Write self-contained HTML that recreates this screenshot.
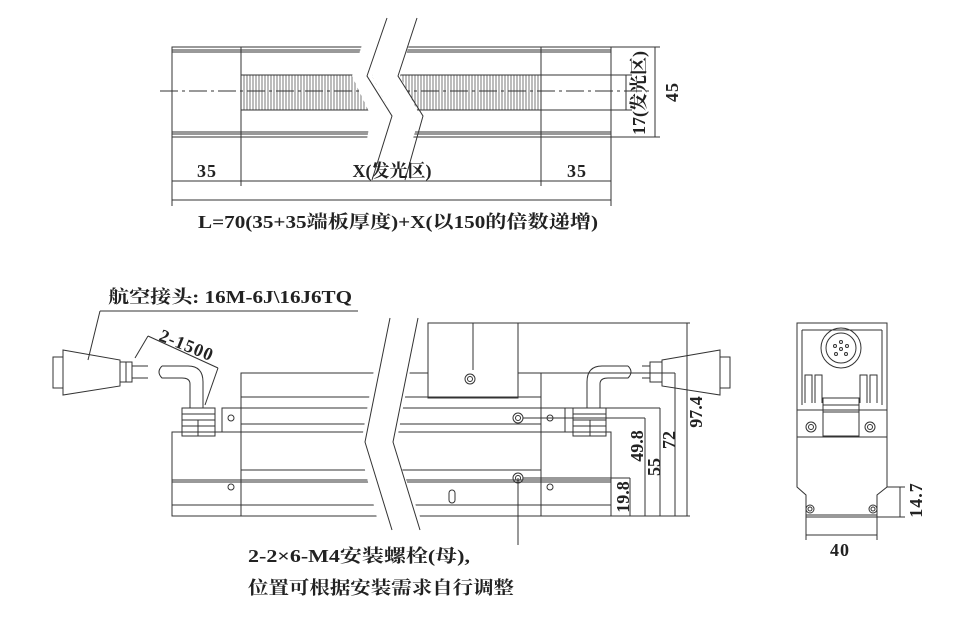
<!DOCTYPE html>
<html><head><meta charset="utf-8"><style>
html,body{margin:0;padding:0;background:#fff;}
svg{display:block;}
text{font-family:"Liberation Serif","Noto Serif CJK SC",serif;font-weight:bold;fill:#222;}
</style></head><body>
<svg width="959" height="638" viewBox="0 0 959 638" xmlns="http://www.w3.org/2000/svg">
<defs>
<pattern id="hatch" width="3" height="10" patternUnits="userSpaceOnUse">
<line x1="1" y1="0" x2="1" y2="10" stroke="#555" stroke-width="0.8"/>
</pattern>
</defs>
<g stroke="#333" fill="none" stroke-width="1">
<!-- TOP VIEW -->
<rect x="172" y="47" width="439" height="90"/>
<line x1="172" y1="50" x2="611" y2="50"/><line x1="172" y1="52" x2="611" y2="52"/>
<line x1="172" y1="132" x2="611" y2="132"/><line x1="172" y1="134" x2="611" y2="134"/>
<line x1="241" y1="47" x2="241" y2="137"/><line x1="541" y1="47" x2="541" y2="137"/>
<rect x="241" y="75" width="300" height="35" fill="url(#hatch)"/>
<line x1="160" y1="91" x2="650" y2="91" stroke-dasharray="18,4,3,4"/>
<polygon points="370,20 392,20 372,76 392,116 380,180 360,180 371,116 352,76" fill="#fff" stroke="none"/>
<polygon points="390,20 416,20 400,76 420,116 400,180 378,180 392,116 372,76" fill="#fff" stroke="none"/>
<polyline points="387,18 367,76 392,116 372,180"/>
<polyline points="417,18 398,76 423,116 405,180"/>
<line x1="172" y1="137" x2="172" y2="206"/><line x1="611" y1="137" x2="611" y2="206"/>
<line x1="241" y1="137" x2="241" y2="186"/><line x1="541" y1="137" x2="541" y2="186"/>
<line x1="172" y1="181" x2="611" y2="181"/>
<line x1="172" y1="200" x2="611" y2="200"/>
<line x1="541" y1="75" x2="632" y2="75"/><line x1="541" y1="110" x2="632" y2="110"/>
<line x1="626" y1="75" x2="626" y2="110"/>
<line x1="611" y1="47" x2="660" y2="47"/><line x1="611" y1="137" x2="660" y2="137"/>
<line x1="655" y1="47" x2="655" y2="137"/>

<!-- SIDE VIEW -->
<rect x="428" y="323" width="90" height="75" fill="#fff"/>
<line x1="473" y1="323" x2="473" y2="370"/>
<circle cx="470" cy="379" r="5"/><circle cx="470" cy="379" r="2.5"/>
<polyline points="241,408 241,373 428,373"/><line x1="518" y1="373" x2="541" y2="373"/>
<line x1="541" y1="373" x2="541" y2="408"/>
<line x1="241" y1="397" x2="541" y2="397"/>
<polyline points="222,432 222,408 565,408 565,432"/>
<line x1="241" y1="424" x2="541" y2="424"/>
<rect x="172" y="432" width="439" height="84"/>
<line x1="241" y1="408" x2="241" y2="516"/><line x1="541" y1="408" x2="541" y2="516"/>
<line x1="241" y1="470" x2="541" y2="470"/>
<line x1="172" y1="480" x2="611" y2="480"/><line x1="172" y1="482" x2="611" y2="482"/>
<line x1="172" y1="505" x2="611" y2="505"/>
<circle cx="231" cy="418" r="3"/><circle cx="231" cy="487" r="3"/>
<circle cx="550" cy="418" r="3"/><circle cx="550" cy="487" r="3"/>
<circle cx="518" cy="418" r="5"/><circle cx="518" cy="418" r="2.5"/>
<circle cx="518" cy="478" r="5"/><circle cx="518" cy="478" r="2.5"/>
<rect x="449" y="490" width="6" height="13" rx="3"/>
<polygon points="383,318 420,318 395,450 425,530 380,530 360,450" fill="#fff" stroke="none"/>
<polyline points="390,318 365,442 392,530"/>
<polyline points="418,318 393,442 420,530"/>
<!-- left connector -->
<rect x="53" y="357" width="10" height="31"/>
<polygon points="63,350 120,360 120,386 63,395"/>
<rect x="120" y="362" width="12" height="20"/>
<line x1="126" y1="362" x2="126" y2="382"/>
<line x1="132" y1="366" x2="148" y2="366"/><line x1="132" y1="378" x2="148" y2="378"/>
<path d="M162,366 L188,366 Q203,366 203,382 L203,408 M190,408 L190,384 Q190,378 182,378 L162,378 Q156,372 162,366"/>
<rect x="182" y="408" width="33" height="28"/>
<line x1="182" y1="414" x2="215" y2="414"/><line x1="182" y1="420" x2="215" y2="420"/><line x1="182" y1="426" x2="215" y2="426"/>
<line x1="198" y1="420" x2="198" y2="436"/>
<!-- right connector -->
<path d="M628,366 L602,366 Q587,366 587,382 L587,408 M600,408 L600,384 Q600,378 608,378 L628,378 Q634,372 628,366"/>
<rect x="573" y="408" width="33" height="28"/>
<line x1="573" y1="414" x2="606" y2="414"/><line x1="573" y1="420" x2="606" y2="420"/><line x1="573" y1="426" x2="606" y2="426"/>
<line x1="590" y1="420" x2="590" y2="436"/>
<line x1="642" y1="366" x2="650" y2="366"/><line x1="642" y1="378" x2="650" y2="378"/>
<rect x="650" y="362" width="12" height="20"/>
<polygon points="662,360 720,350 720,395 662,386"/>
<rect x="720" y="357" width="10" height="31"/>
<!-- leaders -->
<line x1="100" y1="311" x2="358" y2="311"/>
<line x1="100" y1="311" x2="88" y2="360"/>
<line x1="135" y1="358" x2="148" y2="336"/>
<line x1="148" y1="336" x2="218" y2="368"/>
<line x1="218" y1="368" x2="205" y2="405"/>
<line x1="518" y1="478" x2="518" y2="545"/>
<!-- right dims -->
<line x1="518" y1="323" x2="690" y2="323"/>
<line x1="541" y1="373" x2="675" y2="373"/>
<line x1="565" y1="408" x2="660" y2="408"/>
<line x1="523" y1="418" x2="645" y2="418"/>
<line x1="523" y1="478" x2="630" y2="478"/>
<line x1="611" y1="516" x2="690" y2="516"/>
<line x1="630" y1="478" x2="630" y2="516"/>
<line x1="645" y1="418" x2="645" y2="516"/>
<line x1="660" y1="408" x2="660" y2="516"/>
<line x1="675" y1="373" x2="675" y2="516"/>
<line x1="687" y1="323" x2="687" y2="516"/>

<!-- END VIEW -->
<rect x="797" y="323" width="90" height="87"/>
<line x1="802" y1="330" x2="882" y2="330"/>
<line x1="802" y1="330" x2="802" y2="405"/><line x1="882" y1="330" x2="882" y2="405"/>
<circle cx="841" cy="348" r="20"/><circle cx="841" cy="348" r="15"/>
<circle cx="841" cy="342" r="1.5"/><circle cx="835" cy="346" r="1.5"/><circle cx="847" cy="346" r="1.5"/><circle cx="841" cy="349" r="1.5"/><circle cx="836" cy="354" r="1.5"/><circle cx="846" cy="354" r="1.5"/>
<polyline points="805,403 805,375 812,375 812,403"/><polyline points="815,403 815,375 822,375 822,403"/>
<polyline points="860,403 860,375 867,375 867,403"/><polyline points="870,403 870,375 877,375 877,403"/>
<rect x="823" y="398" width="36" height="38"/>
<line x1="823" y1="405" x2="859" y2="405"/><line x1="823" y1="412" x2="859" y2="412"/>
<line x1="797" y1="410" x2="887" y2="410"/>
<line x1="797" y1="437" x2="887" y2="437"/>
<circle cx="811" cy="427" r="5"/><circle cx="811" cy="427" r="2.5"/>
<circle cx="870" cy="427" r="5"/><circle cx="870" cy="427" r="2.5"/>
<polyline points="797,410 797,487 806,495 806,517 877,517 877,495 887,487 887,410"/>
<line x1="806" y1="515" x2="877" y2="515"/>
<circle cx="810" cy="509" r="4"/><circle cx="810" cy="509" r="2"/>
<circle cx="873" cy="509" r="4"/><circle cx="873" cy="509" r="2"/>
<line x1="806" y1="517" x2="806" y2="540"/><line x1="877" y1="517" x2="877" y2="540"/>
<line x1="806" y1="535" x2="877" y2="535"/>
<line x1="887" y1="487" x2="905" y2="487"/><line x1="877" y1="517" x2="905" y2="517"/>
<line x1="900" y1="487" x2="900" y2="517"/>
</g>
<g font-size="18">
<text x="207" y="177" text-anchor="middle" letter-spacing="1">35</text>
<text x="392" y="177" text-anchor="middle">X(发光区)</text>
<text x="577" y="177" text-anchor="middle" letter-spacing="1">35</text>
<text x="398" y="228" text-anchor="middle" textLength="400" lengthAdjust="spacingAndGlyphs">L=70(35+35端板厚度)+X(以150的倍数递增)</text>
<text transform="translate(645,93) rotate(-90)" text-anchor="middle" textLength="84" lengthAdjust="spacingAndGlyphs">17(发光区)</text>
<text transform="translate(678,92) rotate(-90)" text-anchor="middle" letter-spacing="1">45</text>
<text x="108" y="303" textLength="244" lengthAdjust="spacingAndGlyphs">航空接头: 16M-6J\16J6TQ</text>
<text transform="translate(158,340) rotate(22)" letter-spacing="1">2-1500</text>
<text transform="translate(629,497) rotate(-90)" text-anchor="middle">19.8</text>
<text transform="translate(643,446) rotate(-90)" text-anchor="middle">49.8</text>
<text transform="translate(660,467) rotate(-90)" text-anchor="middle">55</text>
<text transform="translate(675,440) rotate(-90)" text-anchor="middle">72</text>
<text transform="translate(702,412) rotate(-90)" text-anchor="middle">97.4</text>
<text x="248" y="562" textLength="222" lengthAdjust="spacingAndGlyphs">2-2×6-M4安装螺栓(母),</text>
<text x="248" y="594" textLength="266" lengthAdjust="spacingAndGlyphs">位置可根据安装需求自行调整</text>
<text x="840" y="556" text-anchor="middle" letter-spacing="1">40</text>
<text transform="translate(922,500) rotate(-90)" text-anchor="middle" letter-spacing="1">14.7</text>
</g>
</svg>
</body></html>
